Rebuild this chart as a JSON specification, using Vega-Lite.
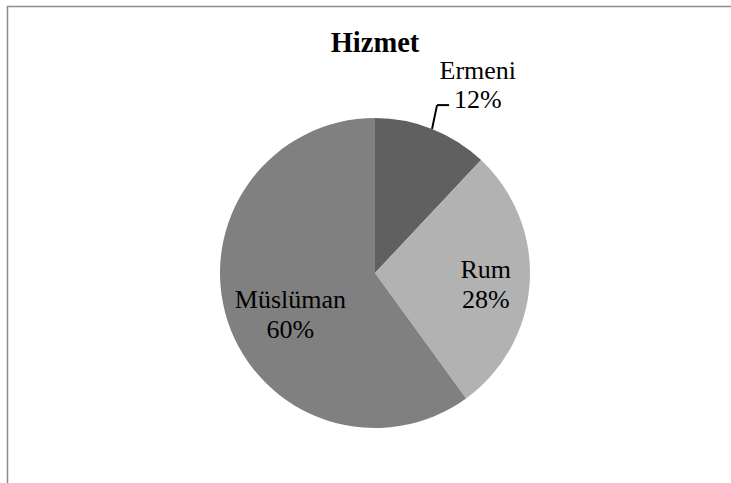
{
  "$schema": "https://vega.github.io/schema/vega-lite/v6.json",
  "width": 735,
  "height": 533,
  "autosize": {"type": "none"},
  "padding": {"left": 7.5, "top": 6.5, "right": 0, "bottom": 0},
  "background": "white",
  "config": {"view": {"stroke": "#8c8c8c", "strokeWidth": 1.5}, "font": "'Liberation Serif', serif"},
  "title": {"text": "Hizmet", "font": "'Liberation Serif', serif", "fontSize": 28.5, "fontWeight": "bold", "color": "black", "anchor": "middle", "frame": "group", "offset": -73.5, "baseline": "alphabetic"},
  "data": {"values": [
    {"category": "Ermeni", "value": 12},
    {"category": "Rum", "value": 28},
    {"category": "Müslüman", "value": 60}
  ]},
  "transform": [
    {"window": [{"op": "row_number", "as": "o"}]},
    {"calculate": "datum.category + '\\n' + datum.value + '%'", "as": "label"}
  ],
  "layer": [
    {
      "mark": {"type": "arc", "radius": 155, "stroke": null},
      "encoding": {
        "theta": {"field": "value", "type": "quantitative", "stack": true},
        "order": {"field": "o", "type": "quantitative"},
        "color": {"field": "category", "type": "nominal", "scale": {"domain": ["Ermeni", "Rum", "Müslüman"], "range": ["#606060", "#b2b2b2", "#808080"]}, "legend": null}
      }
    },
    {
      "mark": {"type": "text", "radius": 111, "dy": -10, "fontSize": 26, "lineHeight": 30, "lineBreak": "\n", "font": "'Liberation Serif', serif", "color": "black", "align": "center", "baseline": "middle"},
      "encoding": {
        "theta": {"field": "value", "type": "quantitative", "stack": true},
        "order": {"field": "o", "type": "quantitative"},
        "detail": {"field": "category", "type": "nominal"},
        "text": {"condition": {"test": "datum.category === 'Rum'", "field": "label"}, "value": ""}
      }
    },
    {
      "mark": {"type": "text", "radius": 90, "dy": -1, "dx": 1, "fontSize": 26, "lineHeight": 30, "lineBreak": "\n", "font": "'Liberation Serif', serif", "color": "black", "align": "center", "baseline": "middle"},
      "encoding": {
        "theta": {"field": "value", "type": "quantitative", "stack": true},
        "order": {"field": "o", "type": "quantitative"},
        "detail": {"field": "category", "type": "nominal"},
        "text": {"condition": {"test": "datum.category === 'Müslüman'", "field": "label"}, "value": ""}
      }
    },
    {
      "mark": {"type": "text", "radius": 206, "dx": 27, "dy": -10, "fontSize": 26, "lineHeight": 29, "lineBreak": "\n", "font": "'Liberation Serif', serif", "color": "black", "align": "center", "baseline": "middle"},
      "encoding": {
        "theta": {"field": "value", "type": "quantitative", "stack": true},
        "order": {"field": "o", "type": "quantitative"},
        "detail": {"field": "category", "type": "nominal"},
        "text": {"condition": {"test": "datum.category === 'Ermeni'", "field": "label"}, "value": ""}
      }
    },
    {
      "transform": [
        {"joinaggregate": [{"op": "sum", "field": "value", "as": "total"}]},
        {"window": [{"op": "sum", "field": "value", "as": "cum"}], "sort": [{"field": "o"}], "frame": [null, 0]},
        {"calculate": "2*PI*(datum.cum - datum.value/2)/datum.total", "as": "mid"},
        {"filter": "datum.category === 'Ermeni'"},
        {"calculate": "155*sin(datum.mid)", "as": "ax"},
        {"calculate": "155*cos(datum.mid)", "as": "ay"},
        {"calculate": "179*sin(datum.mid - 0.023)", "as": "bx"},
        {"calculate": "179*cos(datum.mid - 0.023)", "as": "by"}
      ],
      "mark": {"type": "rule", "color": "black", "strokeWidth": 2},
      "encoding": {
        "x": {"field": "ax", "type": "quantitative", "scale": {"domain": [-367.5, 367.5], "nice": false, "zero": false}, "axis": null},
        "y": {"field": "ay", "type": "quantitative", "scale": {"domain": [-266.5, 266.5], "nice": false, "zero": false}, "axis": null},
        "x2": {"field": "bx"},
        "y2": {"field": "by"}
      }
    },
    {
      "transform": [
        {"joinaggregate": [{"op": "sum", "field": "value", "as": "total"}]},
        {"window": [{"op": "sum", "field": "value", "as": "cum"}], "sort": [{"field": "o"}], "frame": [null, 0]},
        {"calculate": "2*PI*(datum.cum - datum.value/2)/datum.total", "as": "mid"},
        {"filter": "datum.category === 'Ermeni'"},
        {"calculate": "179*sin(datum.mid - 0.023)", "as": "bx"},
        {"calculate": "179*cos(datum.mid - 0.023)", "as": "by"},
        {"calculate": "datum.bx + 12", "as": "cx"}
      ],
      "mark": {"type": "rule", "color": "black", "strokeWidth": 2},
      "encoding": {
        "x": {"field": "bx", "type": "quantitative", "scale": {"domain": [-367.5, 367.5], "nice": false, "zero": false}, "axis": null},
        "y": {"field": "by", "type": "quantitative", "scale": {"domain": [-266.5, 266.5], "nice": false, "zero": false}, "axis": null},
        "x2": {"field": "cx"},
        "y2": {"field": "by"}
      }
    }
  ]
}
